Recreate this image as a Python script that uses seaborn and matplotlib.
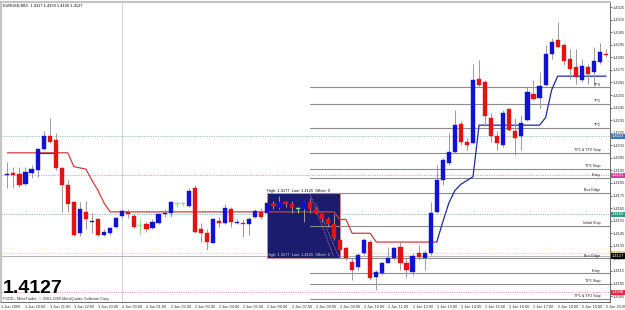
import numpy as np
import pandas as pd
import matplotlib
matplotlib.use("Agg")
import matplotlib.pyplot as plt
import matplotlib.transforms as mtransforms
from matplotlib.patches import Rectangle
import seaborn as sns

# ---------------- data ----------------
chart_title = "EURUSD,M15  1.4127 1.4159 1.4126 1.4127"
big_price = "1.4127"
copyright_text = "FXDD - MetaTrader, \u00a9 2001-2009 MetaQuotes Software Corp."

opens = [1.4191, 1.4193, 1.4192, 1.4184, 1.4193, 1.4195, 1.4212, 1.4222, 1.4219, 1.4197,
         1.4183, 1.4170, 1.4145, 1.4162, 1.4154, 1.4156, 1.4144, 1.4145, 1.4150, 1.4159,
         1.4162, 1.4159, 1.4151, 1.4152, 1.4149, 1.4153, 1.4160, 1.4161, 1.4168, 1.4168,
         1.4167, 1.4181, 1.4148, 1.4145, 1.4137, 1.4155, 1.4153, 1.4164, 1.4153, 1.4153,
         1.4152, 1.4158, 1.4162, 1.4161, 1.4168, 1.4165, 1.4170, 1.4168, 1.4164, 1.4164,
         1.4170, 1.4164, 1.4160, 1.4156, 1.4152, 1.4140, 1.4133, 1.4122, 1.4118, 1.4129,
         1.4138, 1.4110, 1.4113, 1.4121, 1.4125, 1.4134, 1.4121, 1.4114, 1.4129, 1.4125,
         1.4129, 1.4162, 1.4187, 1.4201, 1.4210, 1.4232, 1.4218, 1.4217, 1.4268, 1.4265,
         1.4237, 1.4222, 1.4215, 1.4244, 1.4226, 1.4222, 1.4235, 1.4256, 1.4253, 1.4263,
         1.4288, 1.4299, 1.4295, 1.4284, 1.4277, 1.4267, 1.4277, 1.4273, 1.4281, 1.4288]
highs = [1.4202, 1.4198, 1.4198, 1.4198, 1.4199, 1.4213, 1.4226, 1.4237, 1.4225, 1.4198,
         1.4187, 1.4171, 1.4170, 1.4171, 1.4161, 1.4157, 1.4148, 1.4150, 1.4158, 1.4164,
         1.4164, 1.4160, 1.4156, 1.4154, 1.4156, 1.4161, 1.4164, 1.4171, 1.4170, 1.4170,
         1.4181, 1.4183, 1.4153, 1.4148, 1.4157, 1.4158, 1.4168, 1.4166, 1.4156, 1.4156,
         1.4158, 1.4164, 1.4165, 1.4171, 1.4171, 1.4175, 1.4171, 1.4171, 1.4166, 1.4171,
         1.4173, 1.4166, 1.4161, 1.4158, 1.4160, 1.4145, 1.4134, 1.4125, 1.4129, 1.4141,
         1.4140, 1.4116, 1.4122, 1.4134, 1.4134, 1.4138, 1.4125, 1.4129, 1.4136, 1.4132,
         1.4170, 1.4199, 1.4205, 1.4225, 1.4243, 1.4234, 1.4221, 1.4280, 1.4283, 1.4267,
         1.4241, 1.4226, 1.4243, 1.4245, 1.4237, 1.4239, 1.4261, 1.4267, 1.4273, 1.4295,
         1.4300, 1.4313, 1.4296, 1.4292, 1.4292, 1.4284, 1.4280, 1.4293, 1.4296, 1.4292]
lows = [1.4181, 1.4181, 1.4182, 1.4183, 1.4189, 1.4190, 1.4211, 1.4217, 1.4195, 1.4162,
        1.4162, 1.4143, 1.4143, 1.4148, 1.4145, 1.4143, 1.4143, 1.4144, 1.4149, 1.4157,
        1.4157, 1.4149, 1.4144, 1.4146, 1.4148, 1.4152, 1.4158, 1.4158, 1.4166, 1.4167,
        1.4166, 1.4145, 1.4138, 1.4132, 1.4137, 1.4150, 1.4152, 1.4150, 1.4152, 1.4142,
        1.4144, 1.4157, 1.4156, 1.4160, 1.4164, 1.4164, 1.4166, 1.4161, 1.4161, 1.4154,
        1.4161, 1.4160, 1.4154, 1.4150, 1.4140, 1.4130, 1.4124, 1.4108, 1.4116, 1.4128,
        1.4108, 1.4100, 1.4112, 1.4121, 1.4124, 1.4116, 1.4110, 1.4112, 1.4124, 1.4116,
        1.4128, 1.4161, 1.4183, 1.4199, 1.4209, 1.4215, 1.4211, 1.4216, 1.4261, 1.4230,
        1.4218, 1.4211, 1.4214, 1.4226, 1.4207, 1.4211, 1.4234, 1.4251, 1.4245, 1.4262,
        1.4284, 1.4293, 1.4279, 1.4268, 1.4264, 1.4265, 1.4264, 1.4262, 1.4280, 1.4285]
closes = [1.4192, 1.4191, 1.4183, 1.4194, 1.4196, 1.4212, 1.4222, 1.4218, 1.4197, 1.4183,
          1.4168, 1.4144, 1.4164, 1.4156, 1.4155, 1.4144, 1.4146, 1.4149, 1.4157, 1.4163,
          1.4160, 1.4150, 1.4151, 1.4148, 1.4154, 1.4160, 1.4161, 1.4170, 1.4168, 1.4168,
          1.4179, 1.4146, 1.4145, 1.4138, 1.4156, 1.4153, 1.4165, 1.4154, 1.4154, 1.4152,
          1.4156, 1.4163, 1.4158, 1.4169, 1.4167, 1.4170, 1.4168, 1.4165, 1.4164, 1.4170,
          1.4164, 1.4161, 1.4156, 1.4152, 1.4141, 1.4132, 1.4125, 1.4116, 1.4128, 1.4140,
          1.4109, 1.4114, 1.4121, 1.4125, 1.4133, 1.4121, 1.4116, 1.4127, 1.4126, 1.4129,
          1.4161, 1.4187, 1.4203, 1.4210, 1.4231, 1.4218, 1.4215, 1.4267, 1.4263, 1.4238,
          1.4222, 1.4217, 1.4241, 1.4227, 1.4221, 1.4233, 1.4257, 1.4252, 1.4262, 1.4288,
          1.4297, 1.4293, 1.4282, 1.4276, 1.4269, 1.4278, 1.4272, 1.4282, 1.4289, 1.4287]

# trailing-stop indicator (candle index, price)
trail_red_idx = list(range(0, 72))
trail_red = ([1.4209] * 11 + [1.4198, 1.4197, 1.4196, 1.4187, 1.4179, 1.4169] + [1.4162] * 38
             + [1.4156, 1.4156] + [1.4145] * 4 + [1.4138] * 11)
trail_blue1_idx = [5, 6, 7, 8]
trail_blue1 = [1.4209, 1.4209, 1.4209, 1.4209]
trail_blue2_idx = list(range(71, 100))
trail_blue2 = ([1.4138, 1.4154, 1.4169, 1.4179, 1.4184, 1.4187, 1.4190] + [1.4231] * 11
               + [1.4237, 1.4259] + [1.4270] * 9)

# Asian box
box_start, box_end = 43, 55
box_high, box_low = 1.4177, 1.4125
box_text = "High: 1.4177  Low: 1.4125  Offset: 0"
box_diag = [((50, 1.4177), (54, 1.4126)), ((51, 1.4169), (55, 1.4124))]

# trade levels
level_start = 50
level_names = ["TP4", "TP3", "TP2", "TP1 & TP2 Stop", "TP1 Stop", "Entry", "Box Edge",
               "Initial Stop", "Box Edge", "Entry", "TP1 Stop", "TP1 & TP2 Stop"]
level_prices = [1.4261, 1.4248, 1.4229, 1.4209, 1.4196, 1.4189, 1.4177,
                1.4151, 1.4125, 1.4113, 1.4105, 1.4093]

# dotted horizontal lines with their coloured price tags
hline_prices = [1.4222, 1.4191, 1.4160, 1.4129, 1.4098]
hline_colors = ["#9cc0c0", "#e79ac8", "#8cbcb8", "#e6dc90", "#eba2b8"]
tag_colors = ["#3f76b6", "#d0449c", "#2f9a8a", "#d7c24e", "#df2a4a"]
bid_price = 1.4127

y_ticks = [round(1.4095 + 0.001 * k, 4) for k in range(24)]
start_time = pd.Timestamp("2009-06-01 19:15")
hour_times = pd.date_range("2009-06-01 19:00", "2009-06-02 20:00", freq="h")
x_labels = ["1 Jun 2009"] + [t.strftime("%-d Jun %H:%M") for t in hour_times[1:]]

# ---------------- plot ----------------
sns.set_style("white")
plt.rcParams["font.family"] = ["Liberation Sans", "DejaVu Sans"]

fig = plt.figure(figsize=(6.25, 3.10), dpi=100)
ax = fig.add_axes([1 / 625, 8 / 310, 609 / 625, 300 / 310])
ax.set_xlim(-1.05, 99.65)
ax.set_ylim(1.40903, 1.43290)

n = len(opens)
idx = np.arange(n)
o = np.array(opens); h = np.array(highs); l = np.array(lows); c = np.array(closes)

# dotted horizontal lines
for p, col in zip(hline_prices, hline_colors):
    ax.axhline(p, color=col, lw=0.7, ls=(0, (1.2, 1.2)), zorder=1)
ax.axhline(bid_price, color="#b4b4b4", lw=0.8, zorder=1)
# day separator
sep_pos = (pd.Timestamp("2009-06-02 00:00") - start_time) / pd.Timedelta("15min")
ax.axvline(sep_pos, color="#9a9a9a", lw=0.6, ls=(0, (1.2, 1.2)), zorder=1)

# box
ax.add_patch(Rectangle((box_start, box_low), box_end - box_start, box_high - box_low,
                       facecolor="#1c1c6e", edgecolor="#d98a80", lw=0.6, zorder=2))
for (x0, y0), (x1, y1) in box_diag:
    ax.plot([x0, x1], [y0, y1], color="#d080a0", lw=0.6, ls=(0, (1, 1)), zorder=2.5)
ax.text(box_start, box_high, box_text, fontsize=2.8, color="black", ha="left", va="bottom", zorder=6)
ax.text(box_start, box_low + 0.00012, box_text, fontsize=2.8, color="#d8d8e8", ha="left",
        va="bottom", zorder=6)

# level lines
for name, p in zip(level_names, level_prices):
    ax.plot([level_start, 99.65], [p, p], color="#8c8c8c", lw=0.8, zorder=3)
    ax.annotate(name, (98.1, p), xytext=(0, 0.6), textcoords="offset points",
                fontsize=2.7, ha="right", va="bottom", color="#222222", zorder=6)

# trailing stop lines with seaborn
trail_df = pd.concat([
    pd.DataFrame({"idx": trail_red_idx, "price": trail_red, "seg": "red"}),
    pd.DataFrame({"idx": trail_blue1_idx, "price": trail_blue1, "seg": "blue1"}),
    pd.DataFrame({"idx": trail_blue2_idx, "price": trail_blue2, "seg": "blue2"}),
])
sns.lineplot(data=trail_df, x="idx", y="price", hue="seg", estimator=None, sort=False,
             palette={"red": "#d23c3c", "blue1": "#2a3ab0", "blue2": "#1e2aa0"},
             lw=0.9, legend=False, ax=ax, zorder=4)

# candles
up = c > o
dn = c < o
eq = c == o
colors = np.where(up, "#1212d4", np.where(dn, "#e01414", "#8ee08e"))
wick_colors = np.where(eq, "#8ee08e", "#9a9a9a")
ax.vlines(idx, l, h, colors=wick_colors, lw=0.7, zorder=5)
body_bottom = np.minimum(o, c)
body_h = np.maximum(np.abs(c - o), 0.00009)
ax.bar(idx, body_h, bottom=body_bottom, width=0.68, color=colors, edgecolor=colors,
       lw=0.3, zorder=5.5)

# axis styling
ax.yaxis.tick_right()
ax.set_yticks(y_ticks)
ax.set_yticklabels([f"{v:.4f}" for v in y_ticks])
tick_pos = [(t - start_time) / pd.Timedelta("15min") for t in hour_times]
ax.set_xticks(tick_pos)
ax.set_xticklabels(x_labels)
shift = mtransforms.ScaledTranslation(-1.5 / 100, 0, fig.dpi_scale_trans)
for lbl in ax.get_xticklabels():
    lbl.set_ha("left")
    lbl.set_transform(lbl.get_transform() + shift)
ax.tick_params(axis="y", direction="out", length=1.5, width=0.5, pad=0.6, labelsize=2.9,
               colors="#333333")
ax.tick_params(axis="x", direction="out", length=1.5, width=0.5, pad=0.4, labelsize=2.75,
               colors="#333333")
ax.set_xlabel(""); ax.set_ylabel("")
for side in ["top", "left"]:
    ax.spines[side].set_color("#c4c4c4")
    ax.spines[side].set_linewidth(1.6)
for side in ["right", "bottom"]:
    ax.spines[side].set_color("#555555")
    ax.spines[side].set_linewidth(0.6)

# coloured price tags
blend = mtransforms.blended_transform_factory(ax.transAxes, ax.transData)
for p, tc in zip(hline_prices, tag_colors):
    ax.text(1.0035, p, f"{p:.4f}", transform=blend, fontsize=2.9, color="white", ha="left",
            va="center", clip_on=False, zorder=10,
            bbox=dict(facecolor=tc, edgecolor="none", pad=0.5))
ax.text(1.0035, bid_price, f"{bid_price:.4f}", transform=blend, fontsize=2.9, color="white",
        ha="left", va="center", clip_on=False, zorder=11,
        bbox=dict(facecolor="black", edgecolor="none", pad=0.5))

# texts
ax.text(0.003, 0.995, chart_title, transform=ax.transAxes, fontsize=2.8, ha="left",
        va="top", color="black", zorder=10)
ax.text(0.003, 0.018, big_price, transform=ax.transAxes, fontsize=14, fontweight="bold",
        ha="left", va="bottom", color="black", zorder=10)
ax.text(0.003, 0.002, copyright_text, transform=ax.transAxes, fontsize=2.8, ha="left",
        va="bottom", color="#333333", zorder=10)

fig.savefig("out.png", dpi=100, facecolor="white")
